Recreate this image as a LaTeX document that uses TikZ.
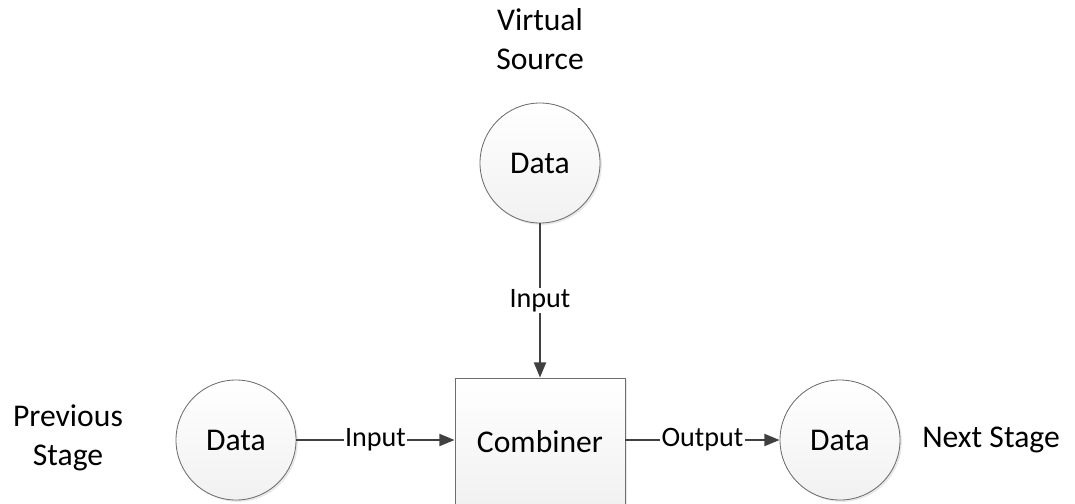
\documentclass[tikz,border=0pt]{standalone}
\usepackage{fontspec}
\setmainfont{Carlito}
\usetikzlibrary{positioning,arrows.meta,shadows}
\definecolor{ink}{HTML}{404040}
\definecolor{rim}{HTML}{6E6E6E}
\definecolor{paper}{HTML}{F1F1F1}

\begin{document}
\begin{tikzpicture}[x=1cm,y=1cm,
    every node/.style={font=\fontsize{22.5}{27.5}\selectfont,text=black},
    datum/.style={circle,draw=rim,line width=0.6pt,minimum size=3cm,inner sep=0pt,
      top color=white,bottom color=paper,
      drop shadow={shadow xshift=1.3pt,shadow yshift=-1.3pt,opacity=0.18}},
    stagebox/.style={rectangle,draw=rim,line width=0.6pt,minimum width=4.25cm,minimum height=3.2cm,
      top color=white,bottom color=paper,
      drop shadow={shadow xshift=1.3pt,shadow yshift=-1.3pt,opacity=0.18}},
    flow/.style={draw=ink,line width=1.4pt,-{Triangle[length=3.8mm,width=3mm]}},
    tag/.style={fill=white,inner sep=1pt,font=\fontsize{20}{24}\selectfont}]
  \useasboundingbox (0,0) rectangle (26.875,-12.575);
  % data holders and the combiner
  \node[datum] (src) at (13.5,-4.075) {Data};
  \node[datum] (prev) at (5.9,-11.0) {Data};
  \node[stagebox] (comb) at (13.5,-11.05) {Combiner};
  \node[datum] (next) at (21.0,-11.0) {Data};
  % captions
  \node[align=center] (srccap) at (13.5,-0.975) {Virtual\\Source};
  \node[align=center] (prevcap) at (1.7,-10.95) {Previous\\Stage};
  \node (nextcap) at (24.775,-11.0) {Next Stage};
  % connectors
  \draw[flow] (src) -- node[tag] {Input} (comb);
  \draw[flow] (prev) -- node[tag] {Input} (prev -| comb.west);
  \draw[flow] (comb.east |- next) -- node[tag] {Output} (next);
\end{tikzpicture}
\end{document}
